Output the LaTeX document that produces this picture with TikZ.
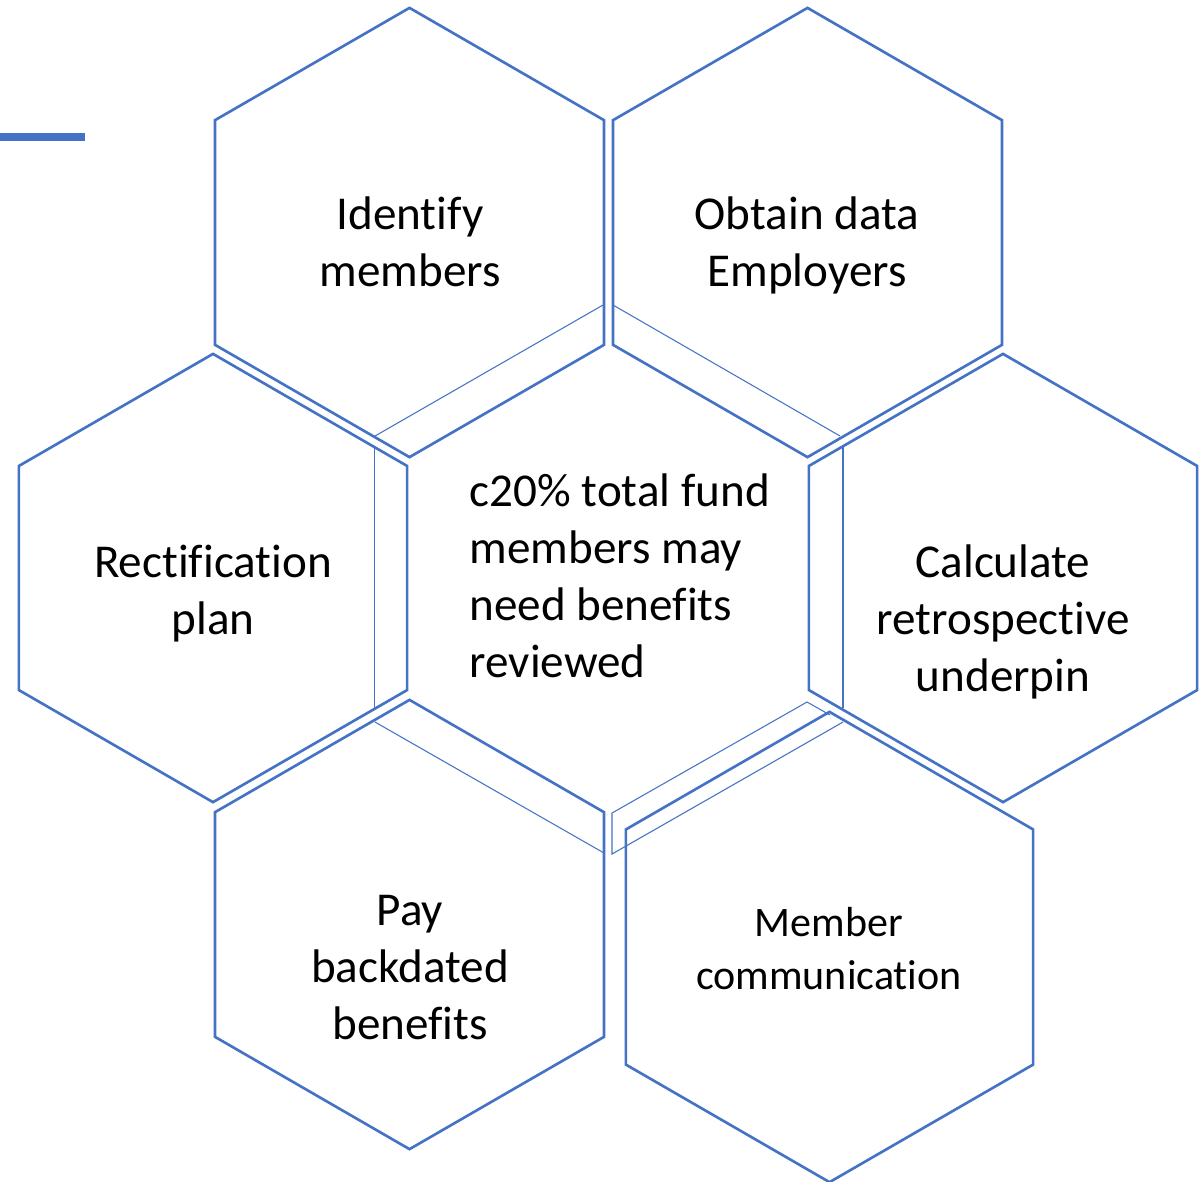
\documentclass[tikz,border=0pt]{standalone}
\usepackage{fontspec}
\setmainfont{Carlito}[Ligatures={NoCommon}]
\usetikzlibrary{shapes.geometric}
\definecolor{hexblue}{HTML}{4472C4}

\begin{document}
\begin{tikzpicture}[x=0.01cm,y=-0.01cm]
\tikzset{
  hex/.style={draw=hexblue,line width=0.75pt,regular polygon,regular polygon sides=6,shape border rotate=30,inner sep=0pt},
  hairline/.style={draw=hexblue,line width=0.3pt},
  lbl/.style={align=center,anchor=base,inner sep=0pt,font=\fontsize{13.4}{16.2}\selectfont}
}
\useasboundingbox (0,0) rectangle (1204,1181);
% title bar
\draw[hexblue,line width=2pt] (0,137) -- (85,137);
% thin inner outline of the middle cell
\draw[hairline] (603,305) -- (375,436);
\draw[hairline] (374.5,447) -- (374.5,710);
\draw[hairline] (375,722) -- (604,853);
\draw[hairline] (613,305) -- (840,436);
\draw[hairline] (843,447) -- (843,708);
\draw[hairline] (843,722) -- (612,854) -- (612,813) -- (807,702) -- (830,715);
% outer cells
\node[hex,minimum size=4.49cm] (hIdent) at (409.5,232.5) {};
\node[hex,minimum size=4.49cm] (hObtain) at (807.5,232.5) {};
\node[hex,minimum size=4.48cm] (hRect) at (213,578) {};
\node[hex,minimum size=4.48cm] (hCalc) at (1003,578) {};
\node[hex,minimum size=4.49cm] (hPay) at (409.5,924.5) {};
\node[hex,minimum size=4.70cm] (hMember) at (829.5,947) {};
% labels (anchored on the last baseline)
\node[lbl] (tIdent) at (410,286) {Identify\\members};
\node[lbl] (tObtain) at (807,286) {Obtain data\\Employers};
\node[lbl] (tRect) at (213,634) {Rectification\\plan};
\node[lbl] (tCalc) at (1003,691) {Calculate\\retrospective\\underpin};
\node[lbl,align=left,anchor=base west] (tCentre) at (469,677) {c20\% total fund\\members may\\need benefits\\reviewed};
\node[lbl] (tPay) at (410,1039) {Pay\\backdated\\benefits};
\node[lbl,font=\fontsize{11.95}{14.8}\selectfont] (tMember) at (829,989) {Member\\communication};
\end{tikzpicture}
\end{document}
